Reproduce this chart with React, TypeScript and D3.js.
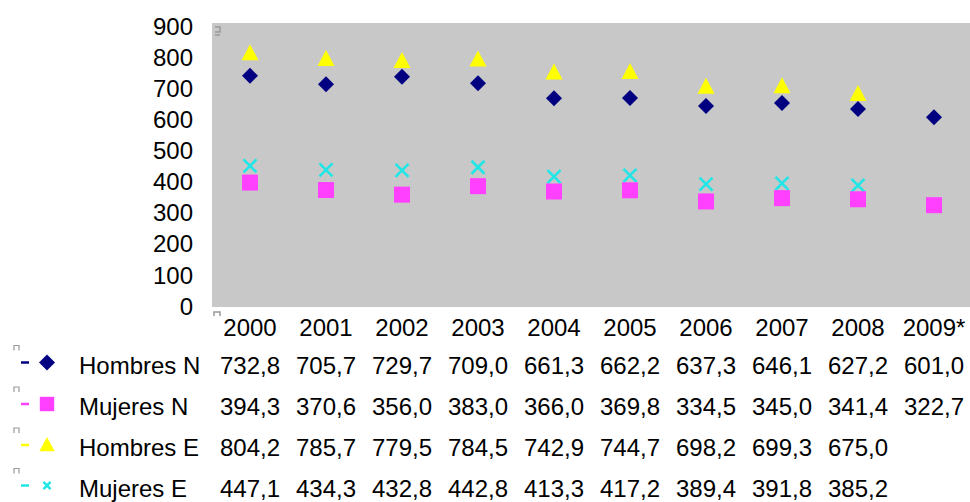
import React from "react";
import * as d3 from "d3";

const years = ["2000", "2001", "2002", "2003", "2004", "2005", "2006", "2007", "2008", "2009*"];
const hombresN = [732.8, 705.7, 729.7, 709.0, 661.3, 662.2, 637.3, 646.1, 627.2, 601.0];
const mujeresN = [394.3, 370.6, 356.0, 383.0, 366.0, 369.8, 334.5, 345.0, 341.4, 322.7];
const hombresE: (number | null)[] = [804.2, 785.7, 779.5, 784.5, 742.9, 744.7, 698.2, 699.3, 675.0, null];
const mujeresE: (number | null)[] = [447.1, 434.3, 432.8, 442.8, 413.3, 417.2, 389.4, 391.8, 385.2, null];
const yTicks = [0, 100, 200, 300, 400, 500, 600, 700, 800, 900];

const seriesNames = ["Hombres N", "Mujeres N", "Hombres E", "Mujeres E"];
const seriesValues = [hombresN, mujeresN, hombresE, mujeresE];
const seriesColors = ["#000080", "#ff40ff", "#ffff00", "#22e6e6"];
const seriesShapes = ["diamond", "square", "triangle", "x"];

const W = 970, H = 502;
const plot = { left: 212, right: 972, top: 23, bottom: 307 };
const font = "'Liberation Sans', Arial, sans-serif";
const fs = 24;

function fmt(v: number) {
  return v.toFixed(1).replace(".", ",");
}

function Marker({ shape, color, x, y, k = 1 }: { shape: string; color: string; x: number; y: number; k?: number }) {
  if (shape === "diamond") {
    const s = 8 * k;
    return <path d={`M${x},${y - s}L${x + s},${y}L${x},${y + s}L${x - s},${y}Z`} fill={color} />;
  }
  if (shape === "square") {
    const s = 8 * k;
    return <rect x={x - s} y={y - s} width={2 * s} height={2 * s} fill={color} />;
  }
  if (shape === "triangle") {
    return <path d={`M${x},${y - 9 * k}L${x + 8.5 * k},${y + 7 * k}L${x - 8.5 * k},${y + 7 * k}Z`} fill={color} />;
  }
  const s = 6.5 * k;
  return (
    <g stroke={color} strokeWidth={2.6}>
      <line x1={x - s} y1={y - s} x2={x + s} y2={y + s} />
      <line x1={x - s} y1={y + s} x2={x + s} y2={y - s} />
    </g>
  );
}

export default function App() {
  const x = d3.scaleBand<string>().domain(years).range([plot.left, plot.right]);
  const y = d3.scaleLinear().domain([0, 900]).range([plot.bottom, plot.top]);
  const yLabel = d3.scaleLinear().domain([0, 900]).range([306, 26]);
  const cx = (yr: string) => (x(yr) as number) + x.bandwidth() / 2;
  const rowY = [365.5, 407, 448, 488.5];
  const legendK = [1, 0.9, 0.9, 0.55];

  return (
    <svg width={W} height={H} style={{ position: "absolute", left: 0, top: 0, background: "#fff" }} fontFamily={font}>
      <rect x={plot.left} y={plot.top} width={plot.right - plot.left} height={plot.bottom - plot.top} fill="#c8c8c8" />
      {/* small gray artifacts */}
      <path d="M215,27h5v5h-5M215,35h5" fill="none" stroke="#999" strokeWidth={1.5} />
      <path d="M214,316v-4h6v4" fill="none" stroke="#999" strokeWidth={1.5} />
      {yTicks.map((t) => (
        <text key={t} x={193} y={yLabel(t)} dy="0.36em" textAnchor="end" fontSize={fs} fill="#000">
          {t}
        </text>
      ))}
      {years.map((yr) => (
        <text key={yr} x={cx(yr)} y={327} dy="0.36em" textAnchor="middle" fontSize={fs} fill="#000">
          {yr}
        </text>
      ))}
      {[2, 3, 1, 0].map((si) => (
        <g key={si}>
          {seriesValues[si].map((v, i) =>
            v == null ? null : (
              <Marker key={i} shape={seriesShapes[si]} color={seriesColors[si]} x={cx(years[i])} y={y(v)} />
            )
          )}
        </g>
      ))}
      {/* data table */}
      {seriesNames.map((name, si) => (
        <g key={name}>
          <path d={`M14,${rowY[si] - 15}v-5h5v5`} fill="none" stroke="#999" strokeWidth={1.2} />
          <line x1={21} x2={29} y1={rowY[si] - 3} y2={rowY[si] - 3} stroke={seriesColors[si]} strokeWidth={2.5} />
          <Marker shape={seriesShapes[si]} color={seriesColors[si]} x={47} y={rowY[si] - 3} k={legendK[si]} />
          <text x={79} y={rowY[si]} dy="0.34em" fontSize={fs} fill="#000">
            {name}
          </text>
          {seriesValues[si].map((v, i) =>
            v == null ? null : (
              <text key={i} x={cx(years[i])} y={rowY[si]} dy="0.34em" textAnchor="middle" fontSize={fs} fill="#000">
                {fmt(v)}
              </text>
            )
          )}
        </g>
      ))}
    </svg>
  );
}
